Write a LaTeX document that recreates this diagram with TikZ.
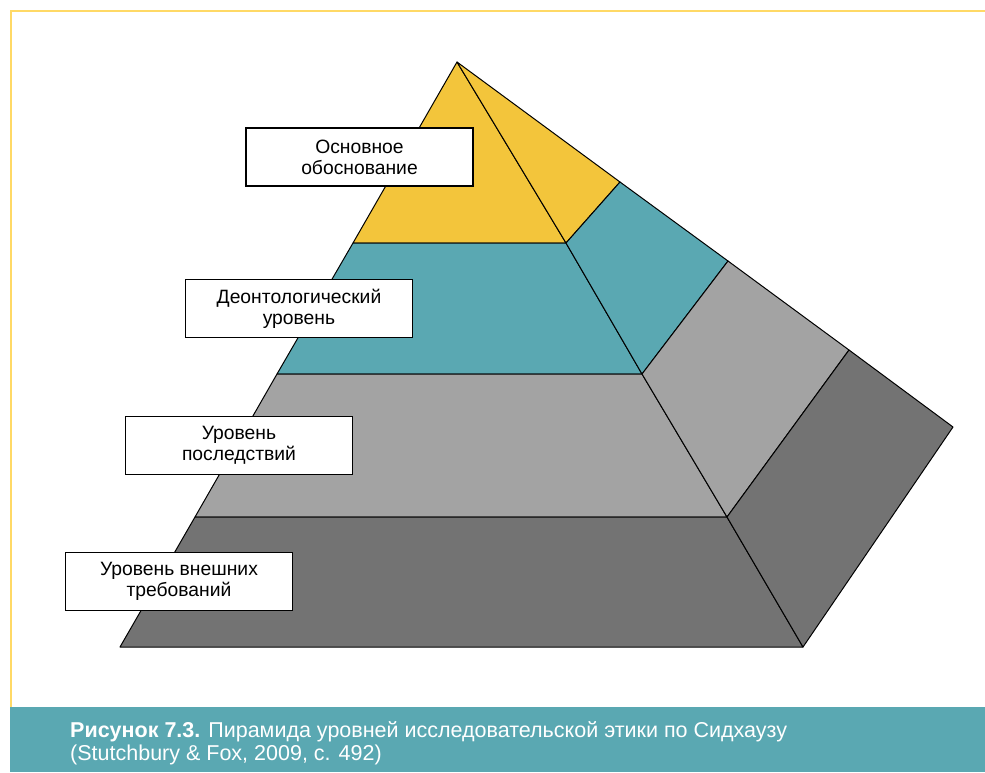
\documentclass[tikz,border=0pt]{standalone}
\usepackage{fontspec}
\setmainfont{Liberation Sans}
\definecolor{pyellow}{HTML}{F3C53B}
\definecolor{pteal}{HTML}{5AA8B2}
\definecolor{plgray}{HTML}{A3A3A3}
\definecolor{pdgray}{HTML}{737373}
\definecolor{bordery}{HTML}{FFD966}
\definecolor{capbar}{HTML}{5AA8B2}
\tikzset{
  face/.style={draw=black, line width=1pt, line join=round},
  lbl/.style={draw=black, line width=1.3pt, fill=white, minimum width=227pt, minimum height=58pt,
              inner sep=0pt, align=center, font=\fontsize{19.3}{21}\selectfont},
  captext/.style={text=white, inner sep=0pt, font=\fontsize{21.5}{23}\selectfont}
}
\begin{document}
\begin{tikzpicture}[x=1pt,y=-1pt]
\useasboundingbox (0,0) rectangle (985,772);
% frame
\draw[bordery, line width=2.5pt] (985,11) -- (11,11) -- (11,707);
\fill[capbar] (10,707) rectangle (985,772);
% coordinates
\coordinate (A) at (457,62);
\coordinate (L1) at (353,243); \coordinate (M1) at (566,243); \coordinate (R1) at (620,182);
\coordinate (L2) at (277,374); \coordinate (M2) at (642,374); \coordinate (R2) at (728,261);
\coordinate (L3) at (195,517); \coordinate (M3) at (727,517); \coordinate (R3) at (849,350);
\coordinate (L4) at (120,647); \coordinate (M4) at (803,647); \coordinate (R4) at (953,427);
% faces
\filldraw[face, fill=pyellow] (A) -- (L1) -- (M1) -- cycle;
\filldraw[face, fill=pyellow] (A) -- (M1) -- (R1) -- cycle;
\filldraw[face, fill=pteal] (L1) -- (L2) -- (M2) -- (M1) -- cycle;
\filldraw[face, fill=pteal] (M1) -- (M2) -- (R2) -- (R1) -- cycle;
\filldraw[face, fill=plgray] (L2) -- (L3) -- (M3) -- (M2) -- cycle;
\filldraw[face, fill=plgray] (M2) -- (M3) -- (R3) -- (R2) -- cycle;
\filldraw[face, fill=pdgray] (L3) -- (L4) -- (M4) -- (M3) -- cycle;
\filldraw[face, fill=pdgray] (M3) -- (M4) -- (R4) -- (R3) -- cycle;
% labels
\node[lbl] (b1) at (359.5,157) {Основное\\обоснование};
\node[lbl] (b2) at (299,308.5) {Деонтологический\\уровень};
\node[lbl] (b3) at (239,445.5) {Уровень\\последствий};
\node[lbl] (b4) at (179,581.5) {Уровень внешних\\требований};
% caption
\node[captext, anchor=base west] (c1) at (70,737) {\textbf{Рисунок 7.3.} Пирамида уровней исследовательской этики по Сидхаузу};
\node[captext, anchor=base west] (c2) at (70,760) {(Stutchbury \& Fox, 2009, с. 492)};
\end{tikzpicture}
\end{document}
